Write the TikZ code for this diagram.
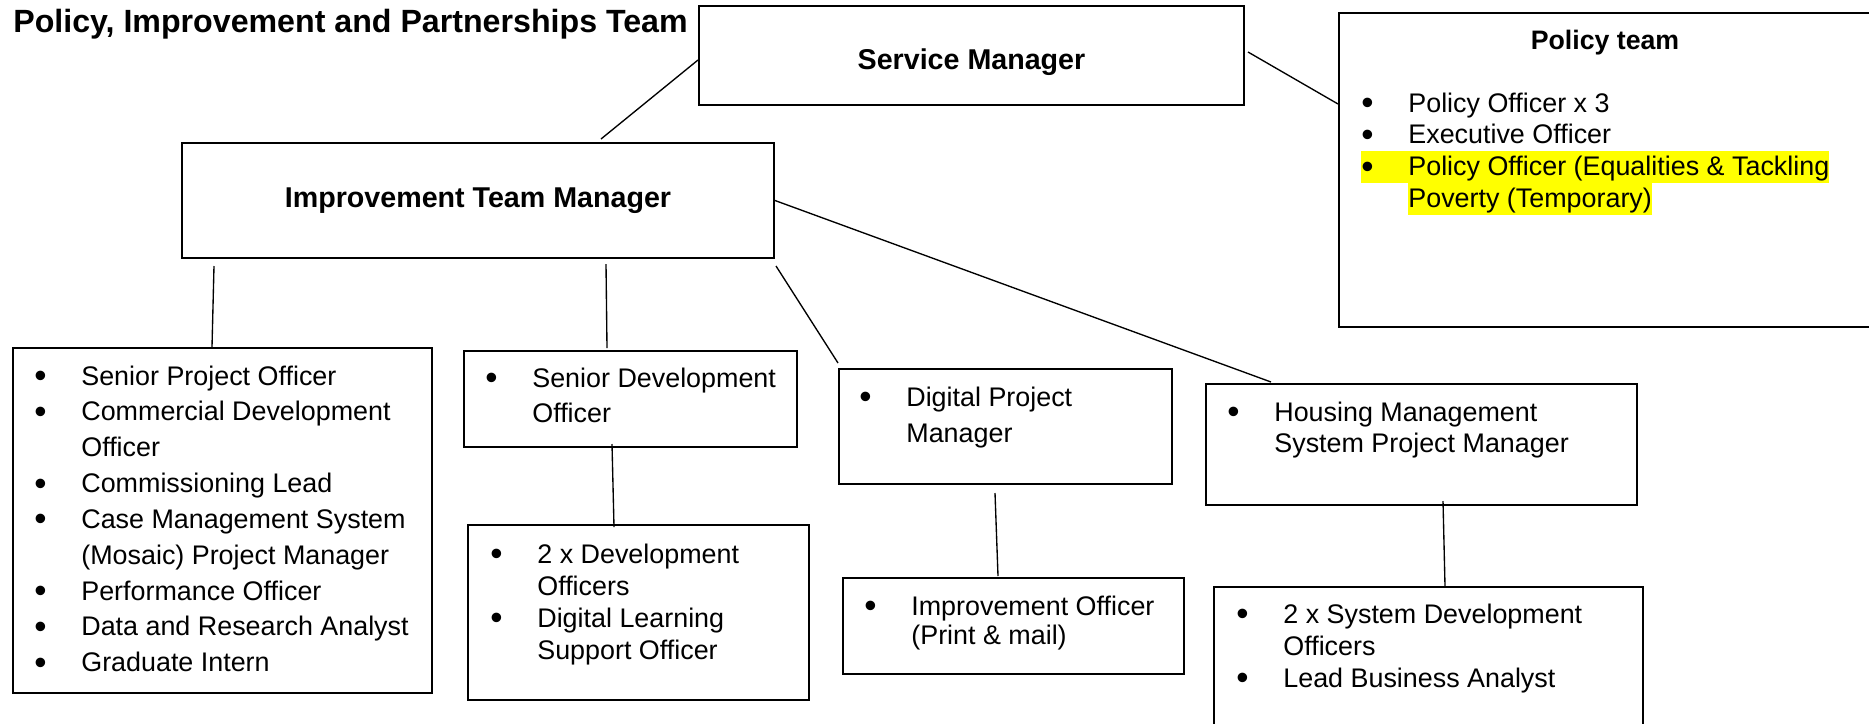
\documentclass[tikz,border=0pt]{standalone}
\usepackage{fontspec}
\setmainfont{Liberation Sans}
\usetikzlibrary{calc}
\definecolor{marker}{RGB}{255,255,0}
\setlength{\fboxsep}{0pt}
% bullet lists inside the boxes
\newcommand{\rolelist}[1]{\begin{tabular}[t]{@{}l@{}l@{}}#1\end{tabular}}
\newcommand{\bul}{\makebox[9.4mm][l]{\raisebox{-1.4pt}{\scalebox{1.3}{\textbullet}}}}
\newcommand{\hl}[1]{\smash{\colorbox{marker}{\rule[-4pt]{0pt}{18.2pt}#1}}}
\tikzset{
  post/.style={draw=black, line width=0.4mm, inner sep=0pt},
  head/.style={font=\fontsize{16.3}{19}\selectfont\bfseries, text=black},
  roles/.style={font=\fontsize{15.3}{#1}\selectfont, text=black, anchor=base west, inner sep=0pt},
  link/.style={draw=black, line width=0.27mm}
}

\begin{document}
\begin{tikzpicture}[x=1mm,y=1mm]
  \useasboundingbox (0,0) rectangle (373.8,-144.6);

  \node[head, font=\fontsize{18.3}{21}\selectfont\bfseries, anchor=base west, inner sep=0pt] (title)
    at (2.6,-6.4) {Policy, Improvement and Partnerships Team};

  % managers
  \node[post, head, minimum width=109mm, minimum height=19.8mm, text height=6.9mm, text depth=1.2mm]
    (svcmgr) at (194.3,-11.1) {Service Manager};
  \node[post, head, minimum width=118.4mm, minimum height=23mm] (impmgr) at (95.6,-40.1) {Improvement Team Manager};

  % policy team
  \node[post, minimum width=108.2mm, minimum height=62.8mm] (policy) at (321.9,-34) {};
  \node[head, font=\fontsize{15.2}{18}\selectfont\bfseries, anchor=base] (policyhead) at (321,-9.8) {Policy team};
  \node[roles=18.2pt] (policyroles) at (272.2,-22.4) {\rolelist{
    \bul & Policy Officer x 3\\
    \bul & Executive Officer\\
    \hl{\bul} & \hl{Policy Officer (Equalities \& Tackling}\\
     & \hl{Poverty (Temporary)}}};

  % improvement team
  \node[post, minimum width=83.8mm, minimum height=69mm] (projects) at (44.5,-104.1) {};
  \node[roles=20.4pt] (projectroles) at (6.8,-77) {\rolelist{
    \bul & Senior Project Officer\\
    \bul & Commercial Development\\
     & Officer\\
    \bul & Commissioning Lead\\
    \bul & Case Management System\\
     & (Mosaic) Project Manager\\
    \bul & Performance Officer\\
    \bul & Data and Research Analyst\\
    \bul & Graduate Intern}};

  \node[post, minimum width=66.6mm, minimum height=19.2mm] (seniordev) at (126.1,-79.8) {};
  \node[roles=20.4pt] (seniordevroles) at (97,-77.4) {\rolelist{
    \bul & Senior Development\\
     & Officer}};

  \node[post, minimum width=68.2mm, minimum height=35mm] (devteam) at (127.7,-122.5) {};
  \node[roles=18.3pt] (devteamroles) at (98,-112.6) {\rolelist{
    \bul & 2 x Development\\
     & Officers\\
    \bul & Digital Learning\\
     & Support Officer}};

  \node[post, minimum width=66.6mm, minimum height=23mm] (digital) at (201.1,-85.3) {};
  \node[roles=21pt] (digitalroles) at (171.8,-81.2) {\rolelist{
    \bul & Digital Project\\
     & Manager}};

  \node[post, minimum width=68.2mm, minimum height=19.2mm] (printmail) at (202.7,-125.2) {};
  \node[roles=16.5pt] (printmailroles) at (172.8,-123) {\rolelist{
    \bul & Improvement Officer\\
     & (Print \& mail)}};

  \node[post, minimum width=86.2mm, minimum height=24.2mm] (housing) at (284.3,-88.9) {};
  \node[roles=18pt] (housingroles) at (245.4,-84.2) {\rolelist{
    \bul & Housing Management\\
     & System Project Manager}};

  \node[post, minimum width=85.8mm, minimum height=30.6mm] (sysdev) at (285.7,-132.7) {};
  \node[roles=18.3pt] (sysdevroles) at (247.2,-124.6) {\rolelist{
    \bul & 2 x System Development\\
     & Officers\\
    \bul & Lead Business Analyst}};

  % reporting lines
  \draw[link] ($(svcmgr.west)+(0,-0.9)$) -- ($(impmgr.north)+(24.6,0.6)$);
  \draw[link] ($(svcmgr.east)+(0.6,0.7)$) -- ($(policy.north west)+(0,-18.4)$);
  \draw[link] ($(impmgr.south west)+(6.6,-1.4)$) -- ($(projects.north west)+(40,0)$);
  \draw[link] ($(impmgr.south)+(25.6,-1)$) -- ($(seniordev.north west)+(28.8,0.4)$);
  \draw[link] ($(impmgr.south east)+(0.2,-1.4)$) -- ($(digital.north west)+(0,1)$);
  \draw[link] (impmgr.east) -- ($(housing.north west)+(13.2,0.2)$);
  \draw[link] ($(seniordev.south west)+(29.8,0.8)$) -- ($(devteam.north west)+(29.4,-0.6)$);
  \draw[link] ($(digital.south west)+(31.4,-1.6)$) -- ($(printmail.north west)+(31.2,0.2)$);
  \draw[link] ($(housing.south west)+(47.6,1)$) -- ($(sysdev.north west)+(46.4,0)$);
\end{tikzpicture}
\end{document}
